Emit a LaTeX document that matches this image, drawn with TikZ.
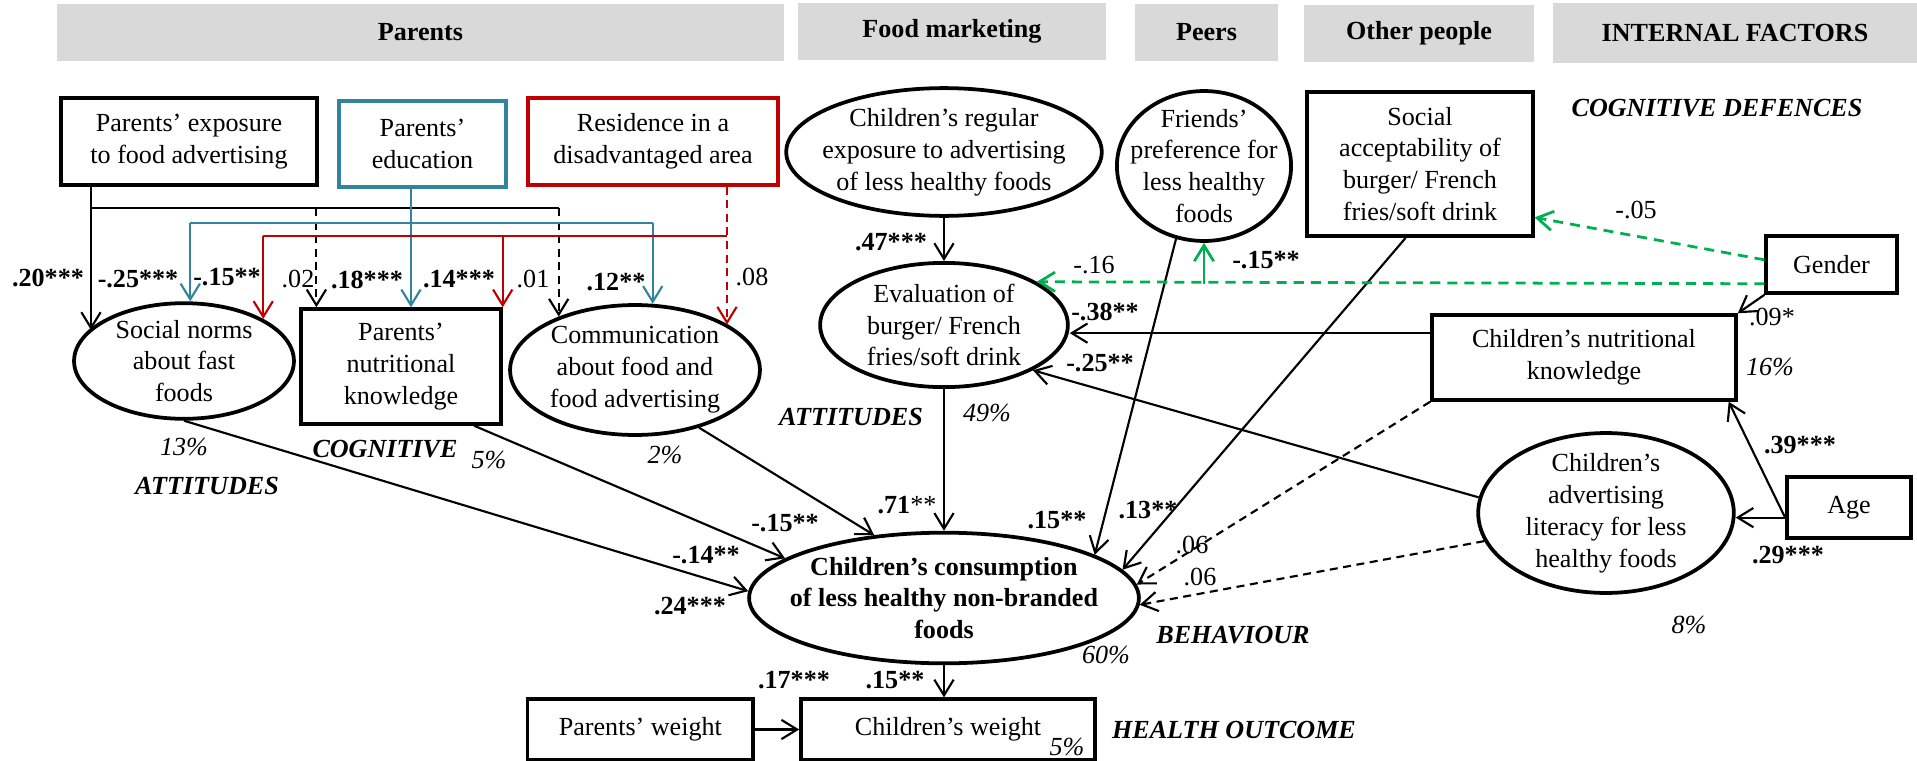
\documentclass[tikz,border=0pt]{standalone}
\usepackage{fontspec}
\setmainfont{Liberation Serif}
\usepackage{tikz}
\usetikzlibrary{arrows.meta,positioning,shapes.geometric}
\definecolor{headgrey}{RGB}{217,217,217}
\definecolor{petrol}{RGB}{49,132,155}
\definecolor{darkred}{RGB}{192,0,0}
\definecolor{signalgreen}{RGB}{0,176,80}
\newcommand{\diagfont}{\fontsize{10.4}{12.7}\selectfont}
\tikzset{
  cabecera/.style={
    fill=headgrey,
    font=\bfseries\diagfont,
    minimum height=.8cm,
    inner sep=0pt
  },
  obs/.style={
    draw,
    line width=1.4pt,
    align=center,
    inner sep=2pt,
    font=\diagfont
  },
  lat/.style={
    ellipse,
    draw,
    line width=1.5pt,
    align=center,
    inner sep=-1cm,
    font=\diagfont
  },
  link/.style={line width=.85pt},
  arr/.style={
    link,
    -{Straight Barb[length=2.2mm,width=2.7mm]}
  },
  dsh/.style={dash pattern=on 3.2pt off 2.2pt},
  garr/.style={arr,signalgreen,line width=1.1pt},
  gdash/.style={garr,dash pattern=on 4pt off 2.8pt},
  coef/.style={font=\bfseries\diagfont,inner sep=0pt},
  ns/.style={font=\diagfont,inner sep=0pt},
  rsq/.style={font=\itshape\diagfont,inner sep=0pt},
  level/.style={font=\bfseries\itshape\diagfont,inner sep=0pt}
}

\begin{document}
\begin{tikzpicture}[x=0.014cm,y=-0.014cm]
\useasboundingbox (0,0) rectangle (1917,761);

\node[cabecera,minimum width=10.18cm] (hpar) at (420.5,32.5) {Parents};
\node[cabecera,minimum width=4.31cm] (hfood) at (952,31.5) {Food marketing};
\node[cabecera,minimum width=2cm] (hpeer) at (1206.5,32.5) {Peers};
\node[cabecera,minimum width=3.22cm] (hother) at (1419,33.5) {Other people};
\node[cabecera,minimum width=5.1cm,minimum height=.84cm] (hint) at (1735,33) {INTERNAL FACTORS};

\node[obs,minimum width=3.58cm,minimum height=1.22cm] (pexp) at (189,141.5) {Parents’ exposure\\to food advertising};
\node[obs,draw=petrol,minimum width=2.34cm,minimum height=1.2cm] (pedu) at (422.5,144) {Parents’\\education};
\node[obs,draw=darkred,minimum width=3.5cm,minimum height=1.22cm] (resid) at (653,141.5) {Residence in a\\disadvantaged area};
\node[obs,minimum width=2.8cm,minimum height=1.61cm] (pnut) at (401,366.5) {Parents’\\nutritional\\knowledge};
\node[obs,minimum width=3.16cm,minimum height=2.02cm] (socacc) at (1420,164) {Social\\acceptability of\\burger/ French\\fries/soft drink};
\node[obs,minimum width=1.83cm,minimum height=.8cm] (gender) at (1831.5,264.5) {Gender};
\node[obs,minimum width=4.26cm,minimum height=1.19cm] (nutk) at (1584,357.5) {Children’s nutritional\\knowledge};
\node[obs,minimum width=1.74cm,minimum height=.85cm] (age) at (1849,507.5) {Age};
\node[obs,minimum width=4.12cm,minimum height=.85cm] (cwt) at (948,729.5) {Children’s weight};
\node[obs,minimum width=3.16cm,minimum height=.85cm,left=.62cm of cwt] (pwt) {Parents’ weight};

\node[lat,minimum width=3.08cm,minimum height=1.62cm] (snorm) at (184,361) {Social norms\\about fast\\foods};
\node[lat,minimum width=3.5cm,minimum height=1.82cm] (comm) at (635,370) {Communication\\about food and\\food advertising};
\node[lat,minimum width=4.42cm,minimum height=1.79cm] (expo) at (944,152) {Children’s regular\\exposure to advertising\\of less healthy foods};
\node[lat,minimum width=3.47cm,minimum height=1.74cm] (eval) at (944,325) {Evaluation of\\burger/ French\\fries/soft drink};
\node[lat,minimum width=2.44cm,minimum height=2.1cm] (friends) at (1204,166) {Friends’\\preference for\\less healthy\\foods};
\node[lat,font=\bfseries\diagfont,minimum width=5.46cm,minimum height=1.83cm] (cons) at (944,598) {Children’s consumption\\of less healthy non-branded\\foods};
\node[lat,minimum width=3.58cm,minimum height=2.24cm] (lit) at (1606,513) {Children’s\\advertising\\literacy for less\\healthy foods};

\coordinate (busk) at (91,208);
\coordinate (bust) at (411,223);
\coordinate (busr) at (727,236);

\draw[arr] (pexp.south -| busk) -- (busk |- snorm.162);
\draw[link] (busk) -- (busk -| comm.145);
\draw[arr,dsh] (busk -| pnut.145) -- (pnut.145);
\draw[arr,dsh] (busk -| comm.145) -- (comm.145);

\draw[arr,petrol] (pedu.south -| bust) -- (bust |- pnut.north);
\draw[link,petrol] (bust -| snorm.84) -- (bust -| comm.75);
\draw[arr,petrol] (bust -| snorm.84) -- (snorm.84);
\draw[arr,petrol] (bust -| comm.75) -- (comm.75);

\draw[arr,darkred,dsh] (resid.south -| busr) -- (busr |- comm.26);
\draw[link,darkred] (busr) -- (busr -| snorm.28);
\draw[arr,darkred] (busr -| snorm.28) -- (snorm.28);
\draw[arr,darkred] (busr -| pnut.north east) -- (pnut.north east);

\draw[arr] (snorm.south) -- (cons.178);
\draw[arr] (pnut.-39) -- (cons.166);
\draw[arr] (comm.-42) -- (cons.138);
\draw[arr] (expo) -- (eval);
\draw[arr] (eval) -- (cons);
\draw[arr] (friends.-111) -- (cons.16);
\draw[arr] (socacc.-101) -- (cons.9);
\draw[arr,dsh] (nutk.south west) -- (cons.4);
\draw[arr,dsh] (lit.193) -- (cons.-2);
\draw[arr] (lit.173) -- (eval.-27);
\draw[arr] (nutk.171) -- (nutk.171 -| eval.east);
\draw[gdash] (gender.196) -- (eval.25);
\draw[garr] (friends.south |- gender.196) -- (friends.south);
\draw[gdash] (gender.176) -- (socacc.-25);
\draw[arr] (gender.south west) -- (nutk.north east);
\draw[arr] (age.189) -- (nutk.-17);
\draw[arr] (age.189) -- (age.189 -| lit.east);
\draw[arr] (cons.south) -- (cons.south |- cwt.north);
\draw[arr] (pwt) -- (cwt);

\node[coef] (c20) at (48,278) {.20***};
\node[coef] (c25) at (138,279) {-.25***};
\node[coef] (c15a) at (227,277) {-.15**};
\node[ns] (c02) at (298,279) {.02};
\node[coef] (c18) at (367,280) {.18***};
\node[coef] (c14a) at (459,279) {.14***};
\node[ns] (c01) at (533,279) {.01};
\node[coef] (c12) at (616,282) {.12**};
\node[ns] (c08) at (752,277) {.08};
\node[coef] (c15b) at (785,523) {-.15**};
\node[coef] (c14b) at (706,555) {-.14**};
\node[coef] (c24) at (690,606) {.24***};
\node[coef] (c47) at (891,242) {.47***};
\node[coef] (c71) at (907,505) {.71\textmd{**}};
\node[coef] (c15c) at (1057,520) {.15**};
\node[coef] (c13) at (1148,510) {.13**};
\node[ns] (c06a) at (1192,545) {.06};
\node[ns] (c06b) at (1200,577) {.06};
\node[coef] (c25b) at (1100,363) {-.25**};
\node[coef] (c38) at (1105,312) {-.38**};
\node[ns] (c16) at (1094,265) {-.16};
\node[coef] (c15d) at (1266,260) {-.15**};
\node[ns] (c05) at (1636,210) {-.05};
\node[ns] (c09) at (1772,317) {.09*};
\node[coef] (c39) at (1800,445) {.39***};
\node[coef] (c29) at (1788,555) {.29***};
\node[coef] (c17) at (794,680) {.17***};
\node[coef] (c15e) at (895,680) {.15**};

\node[rsq] (r13) at (184,447) {13\%};
\node[rsq] (r5a) at (489,460) {5\%};
\node[rsq] (r2) at (665,455) {2\%};
\node[rsq] (r49) at (987,413) {49\%};
\node[rsq] (r16) at (1770,367) {16\%};
\node[rsq] (r8) at (1689,625) {8\%};
\node[rsq] (r60) at (1106,655) {60\%};
\node[rsq] (r5b) at (1067,747) {5\%};

\node[level] (attp) at (207,486) {ATTITUDES};
\node[level] (cogp) at (385,449) {COGNITIVE};
\node[level] (attc) at (851,417) {ATTITUDES};
\node[level] (cdef) at (1717,108) {COGNITIVE DEFENCES};
\node[level] (beh) at (1233,635) {BEHAVIOUR};
\node[level] (health) at (1234,730) {HEALTH OUTCOME};
\end{tikzpicture}
\end{document}
